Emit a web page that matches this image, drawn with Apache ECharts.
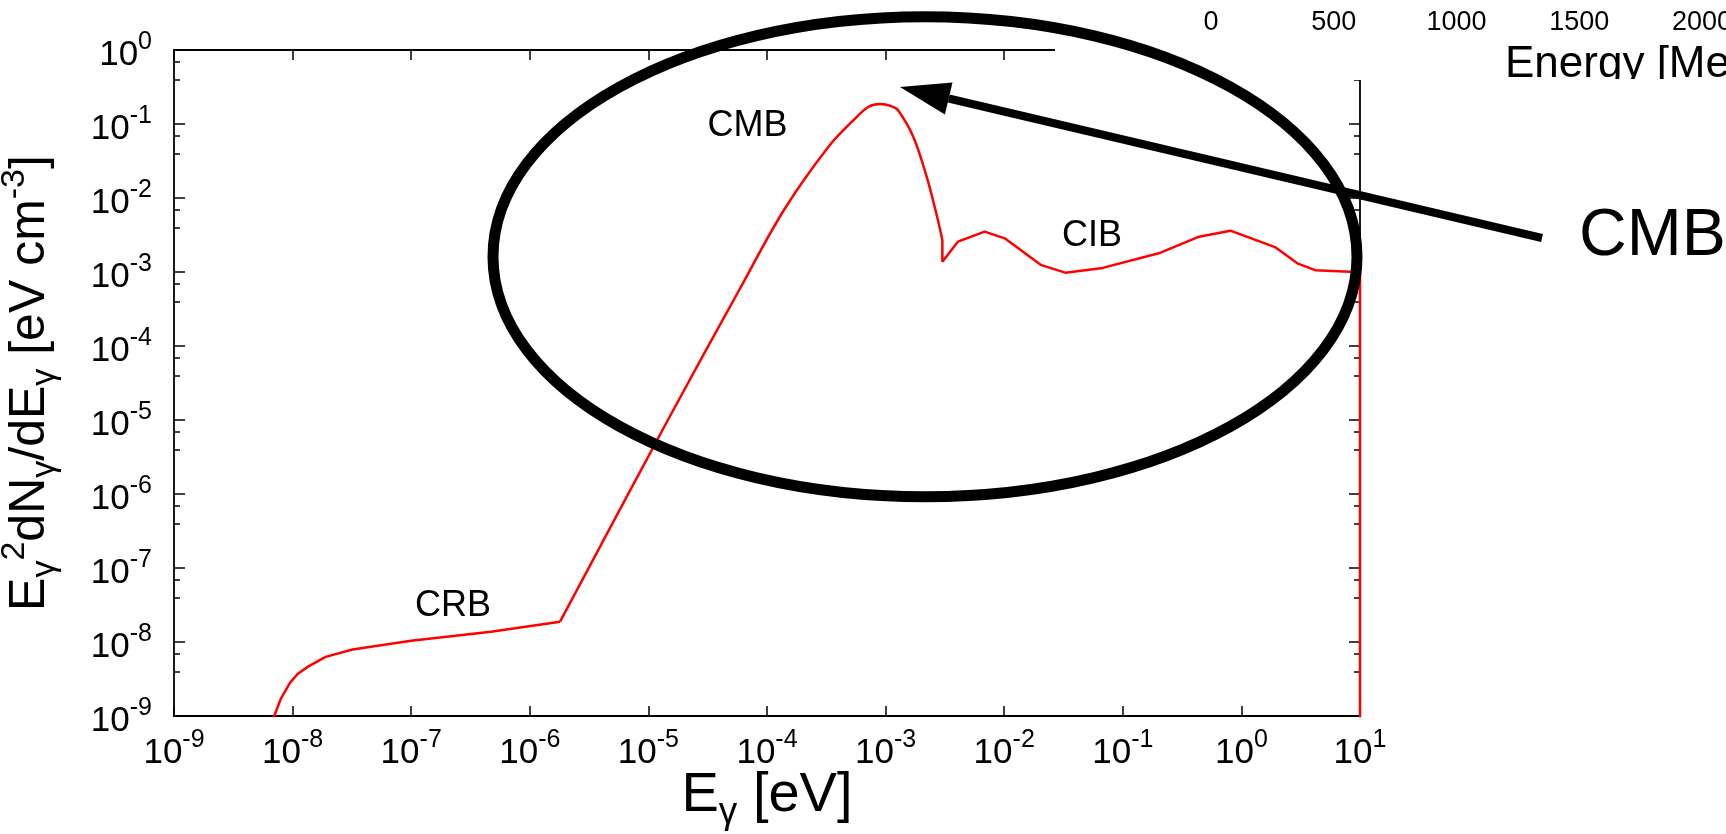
<!DOCTYPE html>
<html>
<head>
<meta charset="utf-8">
<script src="https://cdn.jsdelivr.net/npm/echarts@6/dist/echarts.min.js"></script>
<style>
html, body { margin: 0; padding: 0; background: #fff; }
#chart { width: 1726px; height: 834px; }
</style>
</head>
<body>
<div id="chart"></div>
<script>
const FONT = '"Liberation Sans", Arial, Helvetica, sans-serif';

// photon energy [eV] and E^2 dN/dE [eV cm^-3], split by background
const crbEnergy = [6.5e-9, 7.0e-9, 8.0e-9, 9.5e-9, 1.1e-8, 1.35e-8, 1.9e-8, 3.2e-8, 1.0e-7, 4.7e-7, 1.8e-6];
const crbDensity = [7.5e-10, 1.0e-9, 1.75e-9, 2.8e-9, 3.7e-9, 4.65e-9, 6.3e-9, 7.9e-9, 1.04e-8, 1.38e-8, 1.88e-8];

const cmbEnergy = [1.8e-6, 1.46e-5, 5.83e-5, 1.39e-4, 3.30e-4, 5.55e-4, 7.2e-4, 8.95e-4, 1.11e-3, 1.27e-3, 1.71e-3, 2.22e-3, 2.76e-3, 3.01e-3];
const cmbDensity = [1.88e-8, 1.0e-5, 5.71e-4, 6.89e-3, 4.94e-2, 0.119, 0.171, 0.186, 0.175, 0.155, 0.0675, 0.0194, 5.05e-3, 2.7e-3];

const cibEnergy = [3.01e-3, 3.01e-3, 4.07e-3, 6.85e-3, 1.01e-2, 2.03e-2, 3.27e-2, 6.53e-2, 0.201, 0.44, 0.807, 1.92, 2.96, 4.19, 8.24, 10, 10];
const cibDensity = [2.7e-3, 1.38e-3, 2.57e-3, 3.51e-3, 2.85e-3, 1.25e-3, 9.8e-4, 1.12e-3, 1.79e-3, 3.0e-3, 3.62e-3, 2.17e-3, 1.31e-3, 1.06e-3, 1.01e-3, 1.0e-3, 1e-10];

const xExponents = [-9, -8, -7, -6, -5, -4, -3, -2, -1, 0, 1];
const yExponents = [-9, -8, -7, -6, -5, -4, -3, -2, -1, 0];

const bandNames = ['CRB', 'CMB', 'CIB'];
const bandEnergy = [2.25e-7, 6.85e-5, 0.055];
const bandDensity = [3.06e-8, 0.094, 3.06e-3];

// tick labels of the pasted-in axis at the top right
const topTicks = [0, 500, 1000, 1500, 2000];

const chart = echarts.init(document.getElementById('chart'), null, { renderer: 'canvas' });

function powerLabel(list) {
    return v => {
        const e = Math.round(Math.log10(v));
        return list.includes(e) ? `{b|10}{s|${e}}` : '';
    };
}

function curve(xs, ys, smooth) {
    return {
        type: 'line',
        xAxisIndex: 0, yAxisIndex: 0,
        data: xs.map((x, i) => [x, ys[i]]),
        showSymbol: false,
        smooth: smooth,
        clip: true,
        lineStyle: { color: '#ff0000', width: 2.5 },
        z: 3
    };
}

const black = { color: '#000', width: 1.8 };
const tickStyle = { color: '#000', width: 1.5 };

const cmbSeries = curve(cmbEnergy, cmbDensity, 0.35);
cmbSeries.markPoint = {
    symbol: 'circle', symbolSize: 0,
    itemStyle: { color: 'rgba(0,0,0,0)' },
    label: { show: true, position: 'inside', formatter: '{b}', color: '#000', fontSize: 36, fontFamily: FONT },
    data: bandNames.map((n, i) => ({ name: n, coord: [bandEnergy[i], bandDensity[i]] }))
};

chart.setOption({
    animation: false,
    backgroundColor: '#fff',
    textStyle: { fontFamily: FONT },
    grid: [
        { left: 174, right: 366, top: 50, bottom: 118, containLabel: false, outerBoundsMode: 'none' },
        { left: 1211, width: 491, top: 0, height: 10, containLabel: false, outerBoundsMode: 'none' }
    ],
    xAxis: [
        {
            type: 'log', logBase: 10, min: 1e-9, max: 10, interval: 1,
            gridIndex: 0, position: 'bottom',
            axisLine: { lineStyle: black },
            axisTick: { inside: true, length: 10, lineStyle: tickStyle },
            splitLine: { show: false },
            axisLabel: {
                margin: 12, showMinLabel: true, showMaxLabel: true,
                formatter: powerLabel(xExponents),
                rich: {
                    b: { fontSize: 35, lineHeight: 50, color: '#000', fontFamily: FONT },
                    s: { fontSize: 25, lineHeight: 17, verticalAlign: 'top', color: '#000', fontFamily: FONT }
                }
            },
            name: '{b|E}{sub|γ}{b| [eV]}',
            nameLocation: 'middle', nameGap: 45, nameMoveOverlap: false,
            nameTextStyle: {
                rich: {
                    b: { fontSize: 56, lineHeight: 70, color: '#000', fontFamily: FONT },
                    sub: { fontSize: 37, lineHeight: 35, verticalAlign: 'bottom', color: '#000', fontFamily: FONT }
                }
            }
        },
        {
            type: 'log', logBase: 10, min: 1e-9, max: 10, interval: 1,
            gridIndex: 0, position: 'top',
            axisLine: { lineStyle: black },
            axisTick: { inside: true, length: 10, lineStyle: tickStyle },
            axisLabel: { show: false },
            splitLine: { show: false }
        },
        {
            type: 'value', gridIndex: 1, min: topTicks[0], max: topTicks[topTicks.length - 1], interval: 500, z: 55,
            axisLine: { show: false },
            axisTick: { show: false },
            splitLine: { show: false },
            axisLabel: {
                margin: 0, fontSize: 27, lineHeight: 26, color: '#000', fontFamily: FONT,
                formatter: v => topTicks.includes(v) ? String(v) : ''
            }
        }
    ],
    yAxis: [
        {
            type: 'log', logBase: 10, min: 1e-9, max: 1, interval: 1,
            gridIndex: 0, position: 'left',
            axisLine: { lineStyle: black },
            axisTick: { inside: true, length: 11, lineStyle: tickStyle },
            minorTick: { show: true, splitNumber: 3, length: 6, lineStyle: tickStyle },
            splitLine: { show: false },
            axisLabel: {
                margin: 22, padding: [10, 0, 0, 0], showMinLabel: true, showMaxLabel: true,
                formatter: powerLabel(yExponents),
                rich: {
                    b: { fontSize: 35, lineHeight: 50, color: '#000', fontFamily: FONT },
                    s: { fontSize: 25, lineHeight: 15, verticalAlign: 'top', color: '#000', fontFamily: FONT }
                }
            },
            name: '{b|E}{sub|γ}{sup|2}{b|dN}{sub|γ}{b|/dE}{sub|γ}{b| [eV cm}{sup|-3}{b|]}',
            nameLocation: 'middle', nameRotate: 90, nameGap: 112, nameMoveOverlap: false,
            nameTextStyle: {
                rich: {
                    b: { fontSize: 50, lineHeight: 64, color: '#000', fontFamily: FONT },
                    sub: { fontSize: 34, lineHeight: 32, verticalAlign: 'bottom', color: '#000', fontFamily: FONT },
                    sup: { fontSize: 34, lineHeight: 20, verticalAlign: 'top', color: '#000', fontFamily: FONT }
                }
            }
        },
        {
            type: 'log', logBase: 10, min: 1e-9, max: 1, interval: 1,
            gridIndex: 0, position: 'right',
            axisLine: { lineStyle: black },
            axisTick: { inside: true, length: 11, lineStyle: tickStyle },
            minorTick: { show: true, splitNumber: 3, length: 6, lineStyle: tickStyle },
            axisLabel: { show: false },
            splitLine: { show: false }
        },
        { type: 'value', gridIndex: 1, show: false }
    ],
    series: [
        curve(crbEnergy, crbDensity, false),
        cmbSeries,
        curve(cibEnergy, cibDensity, false)
    ],
    graphic: [
        // white patch of the pasted axis, hides the corner of the frame
        { type: 'rect', z: 50, shape: { x: 1055, y: 0, width: 671, height: 80 }, style: { fill: '#fff' } },
        { type: 'text', z: 53, x: 1505, y: 64.8, style: { text: 'Energy [MeV]', fontSize: 44, fontFamily: FONT, fill: '#000', align: 'left', verticalAlign: 'middle' } },
        { type: 'rect', z: 54, shape: { x: 1480, y: 79, width: 246, height: 25 }, style: { fill: '#fff' } },
        // hand drawn annotation
        { type: 'ellipse', z: 60, shape: { cx: 925, cy: 256.7, rx: 432, ry: 240 }, style: { fill: 'transparent', stroke: '#000', lineWidth: 11 } },
        { type: 'line', z: 60, shape: { x1: 1542, y1: 238, x2: 948.7, y2: 98.5 }, style: { stroke: '#000', lineWidth: 8 } },
        { type: 'polygon', z: 61, shape: { points: [[900, 87], [952.5, 82.4], [944.9, 114.5]] }, style: { fill: '#000' } },
        { type: 'text', z: 60, x: 1579, y: 236.5, style: { text: 'CMB', fontSize: 66, fontFamily: FONT, fill: '#000', align: 'left', verticalAlign: 'middle' } }
    ]
});
</script>
</body>
</html>
